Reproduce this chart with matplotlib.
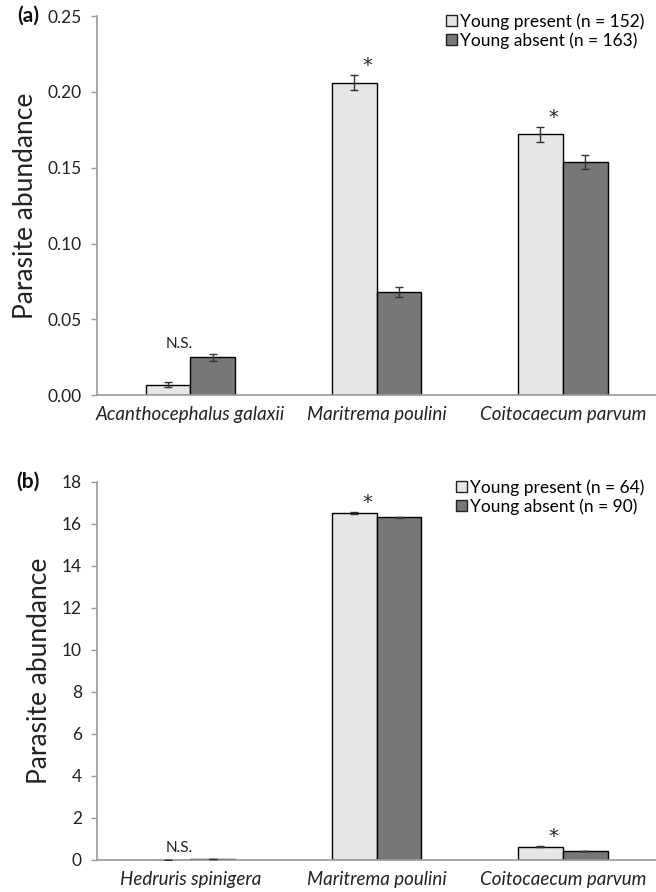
import numpy as np
import matplotlib
matplotlib.use("Agg")
import matplotlib.pyplot as plt
from matplotlib.patches import Patch

plt.rcParams['font.family'] = ['Lato', 'DejaVu Sans']

# ---- data: panel (a) ----
species_a = ['Acanthocephalus galaxii', 'Maritrema poulini', 'Coitocaecum parvum']
present_a = [0.007, 0.206, 0.172]
present_err_a = [0.0017, 0.005, 0.0048]
absent_a = [0.025, 0.068, 0.154]
absent_err_a = [0.0024, 0.0035, 0.0047]
marks_a = ['N.S.', '*', '*']
legend_a = ['Young present (n = 152)', 'Young absent (n = 163)']
yticks_a = [0.00, 0.05, 0.10, 0.15, 0.20, 0.25]

# ---- data: panel (b) ----
species_b = ['Hedruris spinigera', 'Maritrema poulini', 'Coitocaecum parvum']
present_b = [0.0, 16.5, 0.62]
present_err_b = [0.0, 0.05, 0.02]
absent_b = [0.05, 16.3, 0.43]
absent_err_b = [0.0, 0.04, 0.01]
marks_b = ['N.S.', '*', '*']
legend_b = ['Young present (n = 64)', 'Young absent (n = 90)']
yticks_b = [0, 2, 4, 6, 8, 10, 12, 14, 16, 18]

light = '#e6e6e6'
dark = '#777777'
spine_col = '#9a9a9a'
txt_col = '#222222'

fig = plt.figure(figsize=(6.56, 8.92), dpi=100)
ax_a = fig.add_axes([0.148, 0.557, 0.852, 0.425])
ax_b = fig.add_axes([0.148, 0.036, 0.852, 0.424])


def draw_panel(ax, species, pres, pres_err, abs_, abs_err, marks, leg, yticks, fmt, tag, ns_off):
    x = np.arange(len(species))
    w = 0.24
    ax.bar(x - w / 2, pres, w, color=light, edgecolor='black', linewidth=1.0, zorder=2)
    ax.bar(x + w / 2, abs_, w, color=dark, edgecolor='black', linewidth=1.0, zorder=2)
    ax.errorbar(x - w / 2, pres, yerr=pres_err, fmt='none', ecolor='#333333',
                elinewidth=1.0, capsize=3, capthick=1.0, zorder=3)
    ax.errorbar(x + w / 2, abs_, yerr=abs_err, fmt='none', ecolor='#333333',
                elinewidth=1.0, capsize=3, capthick=1.0, zorder=3)

    for i, m in enumerate(marks):
        top = max(pres[i] + pres_err[i], abs_[i] + abs_err[i])
        if m == 'N.S.':
            ax.annotate(m, (x[i] - 0.06, top), xytext=(0, ns_off), textcoords='offset points',
                        ha='center', va='bottom', fontsize=11, color=txt_col)
        else:
            ax.annotate(m, (x[i] - 0.05, top), xytext=(0, 0), textcoords='offset points',
                        ha='center', va='bottom', fontsize=14, color=txt_col,
                        family=['DejaVu Sans'])

    ax.set_xlim(-0.5, 2.5)
    ax.set_ylim(yticks[0], yticks[-1])
    ax.set_yticks(yticks)
    ax.set_yticklabels([fmt.format(t) for t in yticks], fontsize=12.5, color=txt_col)
    ax.set_xticks(x)
    ax.set_xticklabels(species, fontsize=13.5, style='italic', color=txt_col)
    ax.tick_params(axis='x', length=0, pad=8)
    ax.tick_params(axis='y', length=4, width=1, color=spine_col, pad=7)
    for s in ['top', 'right']:
        ax.spines[s].set_visible(False)
    for s in ['left', 'bottom']:
        ax.spines[s].set_color(spine_col)
        ax.spines[s].set_linewidth(1.2)
    ax.set_ylabel('Parasite abundance', fontsize=19, color=txt_col, labelpad=7)

    handles = [Patch(facecolor=light, edgecolor='#222222', linewidth=1.0),
               Patch(facecolor=dark, edgecolor='#222222', linewidth=1.0)]
    ax.legend(handles, leg, loc='upper right', bbox_to_anchor=(0.995, 1.03), frameon=False,
              fontsize=12.5, handlelength=0.6, handleheight=0.6, handletextpad=0.2,
              labelspacing=0.15, borderaxespad=0.1)
    ax.text(-0.123, 1.0, tag, transform=ax.transAxes, fontsize=15, fontweight='bold',
            ha='center', va='center', color='#111111')


draw_panel(ax_a, species_a, present_a, present_err_a, absent_a, absent_err_a,
           marks_a, legend_a, yticks_a, '{:.2f}', '(a)', 2)
draw_panel(ax_b, species_b, present_b, present_err_b, absent_b, absent_err_b,
           marks_b, legend_b, yticks_b, '{:d}', '(b)', 3)

fig.savefig('out.png', dpi=100)
